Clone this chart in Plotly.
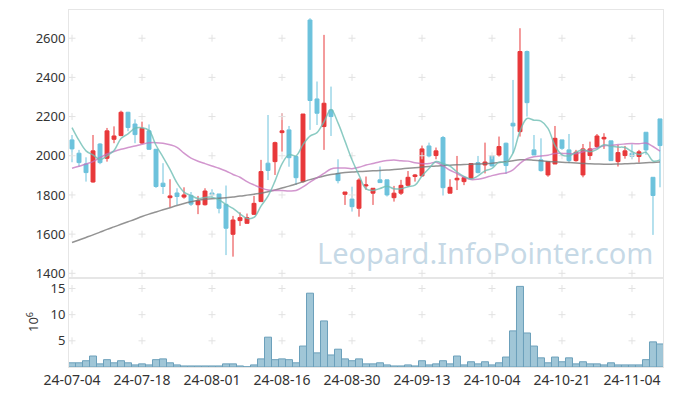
import plotly.graph_objects as go
import pandas as pd

dates = [
    "24-07-04", "24-07-05", "24-07-08", "24-07-09", "24-07-10", "24-07-11", "24-07-12", "24-07-15", "24-07-16", "24-07-17",
    "24-07-18", "24-07-19", "24-07-22", "24-07-23", "24-07-24", "24-07-25", "24-07-26", "24-07-29", "24-07-30", "24-07-31",
    "24-08-01", "24-08-02", "24-08-05", "24-08-06", "24-08-07", "24-08-08", "24-08-09", "24-08-12", "24-08-13", "24-08-14",
    "24-08-16", "24-08-19", "24-08-20", "24-08-21", "24-08-22", "24-08-23", "24-08-26", "24-08-27", "24-08-28", "24-08-29",
    "24-08-30", "24-09-02", "24-09-03", "24-09-04", "24-09-05", "24-09-06", "24-09-09", "24-09-10", "24-09-11", "24-09-12",
    "24-09-13", "24-09-19", "24-09-20", "24-09-23", "24-09-24", "24-09-25", "24-09-26", "24-09-27", "24-09-30", "24-10-02",
    "24-10-04", "24-10-07", "24-10-08", "24-10-10", "24-10-11", "24-10-14", "24-10-15", "24-10-16", "24-10-17", "24-10-18",
    "24-10-21", "24-10-22", "24-10-23", "24-10-24", "24-10-25", "24-10-28", "24-10-29", "24-10-30", "24-10-31", "24-11-01",
    "24-11-04", "24-11-05", "24-11-06", "24-11-07", "24-11-08",
]

opens = [
    2081, 2013, 1958, 1866, 2060, 1987, 2084, 2103, 2222, 2162,
    2065, 2127, 2033, 1860, 1786, 1810, 1789, 1798, 1750, 1750,
    1810, 1805, 1752, 1599, 1669, 1655, 1701, 1766, 1962, 1970,
    2118, 2132, 1996, 1868, 2693, 2290, 2149, 2234, 1910, 1803,
    1779, 1732, 1846, 1809, 1877, 1877, 1786, 1809, 1849, 1894,
    1897, 2050, 2001, 2093, 1809, 1877, 1868, 1885, 1965, 1953,
    1999, 2004, 2064, 2166, 2123, 2532, 2030, 1979, 1902, 1958,
    2081, 2030, 1975, 1902, 2001, 2047, 2086, 2076, 1970, 2001,
    2013, 1996, 2120, 1890, 2188,
]
highs = [
    2106, 2030, 1992, 2106, 2064, 2142, 2150, 2230, 2224, 2186,
    2174, 2160, 2035, 1962, 1880, 1834, 1839, 1815, 1795, 1834,
    1829, 1805, 1848, 1693, 1711, 1705, 1795, 1979, 2208, 2072,
    2217, 2152, 1996, 2213, 2702, 2379, 2617, 2353, 1982, 1815,
    1842, 1885, 1894, 1834, 1945, 1877, 1846, 1877, 1922, 1907,
    2052, 2067, 2042, 2101, 1880, 1999, 1894, 1962, 1999, 2067,
    1999, 2098, 2067, 2387, 2651, 2537, 2106, 2089, 1970, 2152,
    2081, 2111, 2030, 2060, 2072, 2111, 2115, 2076, 2055, 2050,
    2059, 2030, 2120, 1890, 2188,
]
lows = [
    1967, 1945, 1868, 1863, 1957, 1970, 2064, 2100, 2125, 2064,
    2060, 2030, 1836, 1805, 1737, 1749, 1781, 1744, 1702, 1746,
    1786, 1706, 1493, 1485, 1642, 1655, 1698, 1766, 1876, 1902,
    2021, 1944, 1851, 1863, 2132, 2157, 2030, 2101, 1859, 1749,
    1715, 1689, 1826, 1749, 1863, 1792, 1766, 1800, 1843, 1868,
    1894, 1992, 1982, 1797, 1809, 1825, 1850, 1880, 1910, 1910,
    1945, 1996, 1907, 2013, 2098, 2200, 2004, 1919, 1893, 1958,
    2030, 1962, 1970, 1890, 1979, 2038, 2035, 1975, 1945, 1985,
    1982, 1965, 2005, 1596, 1839,
]
closes = [
    2035, 1965, 1914, 2025, 1965, 2127, 2101, 2222, 2144, 2108,
    2140, 2033, 1843, 1843, 1795, 1792, 1800, 1753, 1770, 1820,
    1801, 1732, 1630, 1672, 1684, 1684, 1757, 1919, 1925, 2067,
    2127, 1990, 1888, 2213, 2282, 2217, 2268, 2200, 1873, 1815,
    1740, 1876, 1851, 1834, 1863, 1800, 1809, 1849, 1890, 1902,
    2035, 1999, 2025, 1837, 1839, 1885, 1888, 1960, 1914, 1968,
    1948, 2047, 1950, 2152, 2532, 2271, 2004, 1924, 1970, 2089,
    2038, 1975, 2018, 2035, 2035, 2101, 2094, 1975, 2016, 2025,
    1996, 2020, 2030, 1797, 2052,
]
# volume in millions of shares
volumes = [
    0.8, 0.8, 1.2, 2.1, 0.6, 1.4, 0.8, 1.2, 0.8, 0.4,
    0.6, 0.4, 1.4, 1.55, 0.8, 0.4, 0.2, 0.2, 0.2, 0.2,
    0.2, 0.2, 0.6, 0.6, 0.2, 0.05, 0.4, 1.55, 5.7, 1.4,
    1.55, 1.4, 0.8, 4.0, 14.1, 2.7, 8.8, 2.3, 3.4, 1.55,
    1.2, 1.55, 0.6, 0.6, 0.8, 0.4, 0.2, 0.2, 0.4, 0.2,
    1.2, 0.4, 0.6, 1.2, 0.6, 2.1, 0.4, 1.0, 0.6, 1.0,
    0.4, 0.8, 1.9, 6.9, 15.4, 6.5, 4.0, 1.75, 0.8, 1.9,
    1.0, 1.75, 0.6, 1.0, 0.6, 0.6, 0.4, 0.8, 0.4, 0.4,
    0.4, 0.4, 1.4, 4.8, 4.4,
]
# moving-average values before enough history is visible
ma5_head = [2144, 2078, 2025, 2004]
ma20_head = [1936, 1946, 1958, 1970, 1990, 2009, 2022, 2033, 2042, 2050,
             2059, 2066, 2067, 2064, 2056, 2043, 2013, 1988, 1972]
# long moving average
ma_long = [
    1557, 1570, 1583, 1596, 1610, 1624, 1637, 1650, 1663, 1676,
    1690, 1702, 1713, 1724, 1735, 1746, 1756, 1765, 1773, 1778,
    1781, 1783, 1786, 1790, 1794, 1799, 1804, 1809, 1816, 1825,
    1835, 1845, 1856, 1867, 1878, 1888, 1897, 1904, 1910, 1914,
    1917, 1919, 1921, 1923, 1925, 1927, 1930, 1933, 1936, 1939,
    1942, 1945, 1948, 1950, 1952, 1954, 1955, 1957, 1958, 1960,
    1962, 1966, 1970, 1975, 1979, 1980, 1977, 1974, 1971, 1969,
    1967, 1965, 1963, 1961, 1959, 1958, 1957, 1957, 1958, 1959,
    1960, 1962, 1964, 1966, 1968,
]
price_ticks = [1400, 1600, 1800, 2000, 2200, 2400, 2600]
vol_ticks = [5, 10, 15]
tick_step = 10

x = list(range(len(dates)))
date_tickvals = x[::tick_step]
date_ticktext = dates[::tick_step]

s = pd.Series(closes, dtype=float)
ma5 = s.rolling(5).mean()
ma5.iloc[:len(ma5_head)] = ma5_head
ma20 = s.rolling(20).mean()
ma20.iloc[:len(ma20_head)] = ma20_head

UP = "#e8383a"
DOWN = "#6cc2dc"
GRIDC = "#e2e2e2"
FONT = "Noto Sans"

fig = go.Figure()

# grid crosses at tick intersections
gx = [d for d in date_tickvals for _ in price_ticks]
gy = [p for _ in date_tickvals for p in price_ticks]
fig.add_trace(go.Scatter(x=gx, y=gy, mode="markers", xaxis="x", yaxis="y",
                         marker=dict(symbol="cross-thin", size=5, line=dict(color=GRIDC, width=1)),
                         hoverinfo="skip", showlegend=False))
vx = [d for d in date_tickvals for _ in vol_ticks]
vy = [v for _ in date_tickvals for v in vol_ticks]
fig.add_trace(go.Scatter(x=vx, y=vy, mode="markers", xaxis="x2", yaxis="y2",
                         marker=dict(symbol="cross-thin", size=5, line=dict(color=GRIDC, width=1)),
                         hoverinfo="skip", showlegend=False))

fig.add_trace(go.Candlestick(
    x=x, open=opens, high=highs, low=lows, close=closes,
    xaxis="x", yaxis="y",
    increasing=dict(line=dict(color=UP, width=1), fillcolor=UP),
    decreasing=dict(line=dict(color=DOWN, width=1), fillcolor=DOWN),
    whiskerwidth=0, showlegend=False, hoverinfo="skip",
))

fig.add_trace(go.Scatter(x=x, y=ma_long, mode="lines", xaxis="x", yaxis="y",
                         line=dict(color="rgba(120,120,120,0.8)", width=1.5, shape="spline"),
                         hoverinfo="skip", showlegend=False))
fig.add_trace(go.Scatter(x=x, y=ma20, mode="lines", xaxis="x", yaxis="y",
                         line=dict(color="rgba(195,115,190,0.75)", width=1.5, shape="spline"),
                         hoverinfo="skip", showlegend=False))
fig.add_trace(go.Scatter(x=x, y=ma5, mode="lines", xaxis="x", yaxis="y",
                         line=dict(color="rgba(110,190,180,0.8)", width=1.5, shape="spline"),
                         hoverinfo="skip", showlegend=False))

fig.add_trace(go.Bar(x=x, y=volumes, xaxis="x2", yaxis="y2",
                     marker=dict(color="rgba(150,192,211,0.9)",
                                 line=dict(color="rgba(108,160,187,1)", width=1)),
                     hoverinfo="skip", showlegend=False))

xr = [-0.43, len(dates) - 1 + 0.43]
axis_line = dict(showline=True, mirror=True, linecolor="#e6e6e6", linewidth=1,
                 showgrid=False, zeroline=False)
dom_split = (367 - 278) / 357

fig.update_layout(
    width=673, height=396,
    margin=dict(l=69, r=10, t=10, b=29, autoexpand=False),
    paper_bgcolor="white", plot_bgcolor="white",
    font=dict(family=FONT, size=13, color="#333333"),
    bargap=0.0,
    boxgap=0.2,
    hovermode=False,
    xaxis=dict(range=xr, domain=[0, 1], anchor="y", showticklabels=False, ticks="",
               rangeslider=dict(visible=False), **axis_line),
    yaxis=dict(domain=[dom_split, 1], range=[1376, 2744], tickvals=price_ticks,
               ticks="", anchor="x", **axis_line),
    xaxis2=dict(range=xr, domain=[0, 1], anchor="y2", matches="x",
                tickvals=date_tickvals, ticktext=date_ticktext, ticks="", tickangle=0,
                tickfont=dict(size=14), **axis_line),
    yaxis2=dict(domain=[0, dom_split], range=[0, 17], tickvals=vol_ticks,
                ticks="", anchor="x2", **axis_line),
    annotations=[
        dict(text="Leopard.InfoPointer.com", xref="paper", yref="paper",
             x=(485 - 69) / 594, y=(367 - 252) / 357, xanchor="center", yanchor="middle",
             showarrow=False, font=dict(family=FONT, size=29, color="rgba(160,192,214,0.6)")),
        dict(text="10<sup>6</sup>", xref="paper", yref="paper",
             x=(32 - 69) / 594, y=(367 - 322) / 357, xanchor="center", yanchor="middle",
             textangle=-90, showarrow=False, font=dict(family=FONT, size=13, color="#333333")),
    ],
)

fig.write_html("out.html", config={"displayModeBar": False, "staticPlot": True},
               post_script="document.body.style.margin='0';document.body.style.overflow='hidden';")
